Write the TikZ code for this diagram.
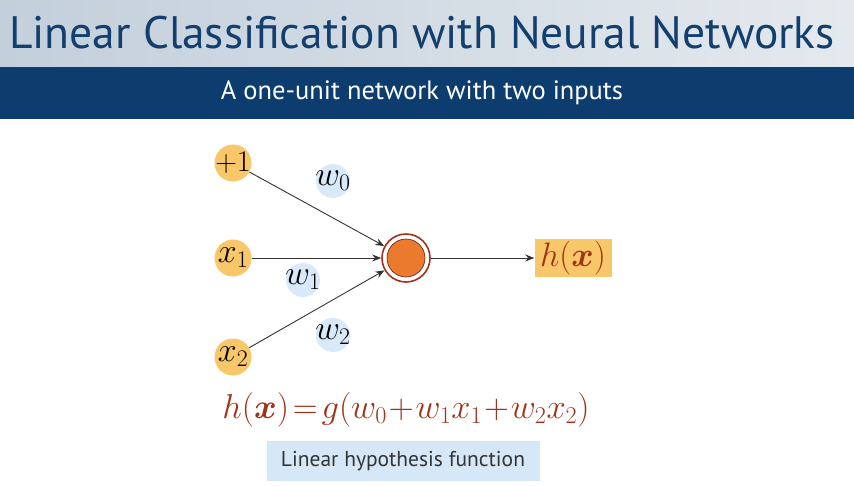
\RequirePackage{fix-cm}
\documentclass[tikz,border=0pt]{standalone}
\usepackage{amsmath,amssymb,bm}
\usepackage{fontspec}
\setsansfont{PT Sans}
\usetikzlibrary{arrows.meta}
\definecolor{headblue}{HTML}{0D3D6E}
\definecolor{titleblue}{HTML}{123F6E}
\definecolor{headleft}{HTML}{C3CFDB}
\definecolor{headright}{HTML}{E4E9EE}
\definecolor{inyellow}{HTML}{F8C769}
\definecolor{wblue}{HTML}{D8E9FA}
\definecolor{unitorange}{HTML}{EA7A2E}
\definecolor{ringred}{HTML}{A3301E}
\definecolor{eqred}{HTML}{9E3419}
\definecolor{linegray}{HTML}{333333}
\definecolor{capblue}{HTML}{D6E8F8}
\tikzset{
  input/.style={circle, fill=inyellow, minimum size=37pt, inner sep=-10pt,
    font=\fontsize{34}{34}\selectfont},
  weight/.style={circle, fill=wblue, minimum size=34pt, inner sep=-10pt,
    font=\fontsize{34}{34}\selectfont},
  conn/.style={draw=linegray, line width=0.9pt, -{Stealth[length=9pt,width=7pt]}}
}
\begin{document}
\begin{tikzpicture}[x=1pt,y=-1pt]
				\useasboundingbox (0,0) rectangle (854,485);
				% header
				\shade[left color=headleft, right color=headright] (0,0) rectangle (854,67);
				\fill[headblue] (0,67) rectangle (854,119);
				\node[text=titleblue, font=\sffamily\fontsize{45.5}{45.5}\selectfont] (title) at (422,33) {Linear Classification with Neural Networks};
				\node[text=white, font=\sffamily\fontsize{26.5}{26.5}\selectfont] (subtitle) at (422,93) {A one-unit network with two inputs};
				% inputs and weights
				\node[input] (one) at (233,163) {\fontsize{30}{30}\selectfont$+1$};
				\node[input] (xa) at (233,258) {$x_1$};
				\node[input] (xb) at (233,357) {$x_2$};
				\node[weight] (wa) at (333,181) {$w_0$};
				\node[weight] (wb) at (303,280) {$w_1$};
				\node[weight] (wc) at (333,335) {$w_2$};
				% unit
				\node[circle, draw=ringred, line width=1.6pt, minimum size=48pt, inner sep=0pt] (unit) at (406,258) {};
				\node[circle, fill=unitorange, draw=ringred!60!black, line width=0.6pt, minimum size=38pt] (core) at (unit) {};
				\node[fill=inyellow, text=eqred, minimum width=77pt, minimum height=38pt, inner sep=0pt,
				  font=\fontsize{34}{34}\selectfont] (hx) at (573,258) {$h(\bm{x})$};
				\draw[conn] (one) -- (unit);
				\draw[conn] (xa) -- (unit);
				\draw[conn] (xb) -- (unit);
				\draw[conn] (unit) -- (hx);
				% formula
				\node[text=eqred, font=\fontsize{34.5}{34.5}\selectfont] (eq) at (406,410) {$h(\bm{x})\!=\!g(w_0\!+\!w_1x_1\!+\!w_2x_2)$};
				\node[fill=capblue, text=black!80, minimum width=273pt, minimum height=40pt,
				  font=\sffamily\fontsize{21.5}{21.5}\selectfont] (cap) at (403,461) {Linear hypothesis function};
			\end{tikzpicture}
\end{document}
